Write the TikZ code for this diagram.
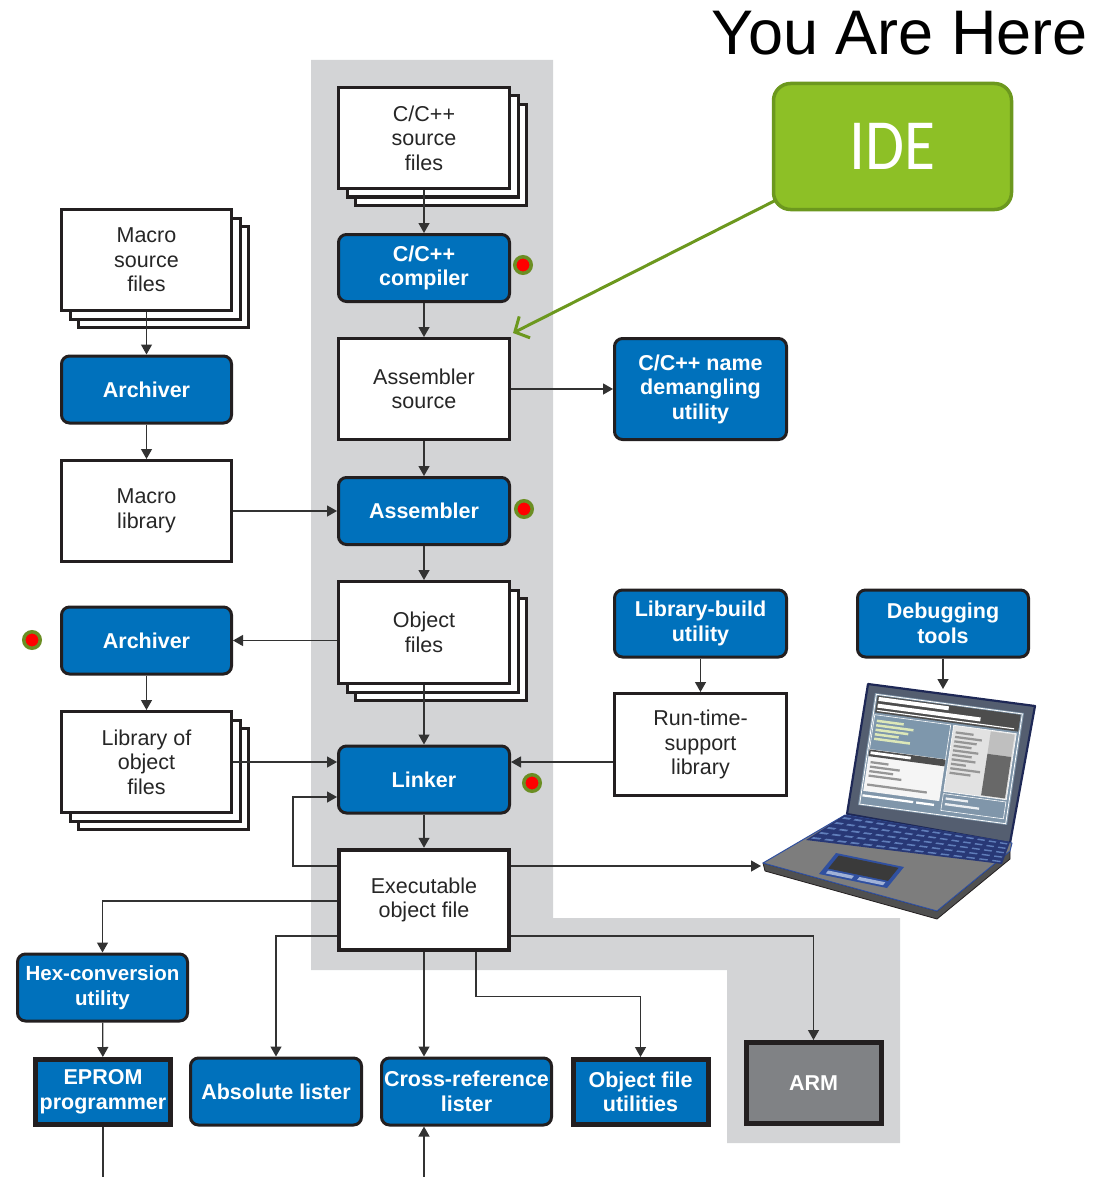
\documentclass[tikz,border=0pt]{standalone}
\usepackage{fontspec}
\setmainfont{Liberation Sans}
\newfontfamily\idefont{Carlito}
\usetikzlibrary{arrows.meta,shadows,calc}

\definecolor{panelgray}{RGB}{211,212,214}
\definecolor{toolblue}{RGB}{0,113,188}
\definecolor{boxline}{RGB}{35,31,32}
\definecolor{wire}{RGB}{50,50,50}
\definecolor{armgray}{RGB}{128,130,133}
\definecolor{idegreen}{RGB}{141,192,38}
\definecolor{idedark}{RGB}{108,152,30}
\definecolor{ringgreen}{RGB}{107,142,35}
% laptop palette
\definecolor{lidframe}{RGB}{30,40,86}
\definecolor{lidbezel}{RGB}{84,94,112}
\definecolor{screenbg}{RGB}{128,150,170}
\definecolor{screenpanel}{RGB}{126,151,172}
\definecolor{screenlight}{RGB}{226,226,226}
\definecolor{screendark}{RGB}{77,77,77}
\definecolor{textline}{RGB}{150,150,150}
\definecolor{yellowline}{RGB}{221,232,184}
\definecolor{deckgray}{RGB}{125,125,125}
\definecolor{deckside}{RGB}{80,80,80}
\definecolor{keybed}{RGB}{40,56,118}
\definecolor{keycap}{RGB}{96,126,186}
\definecolor{padgray}{RGB}{58,58,58}
\definecolor{padframe}{RGB}{48,80,160}

% axis-aligned quad in the current (possibly skewed) frame
\newcommand\quadfill[5]{\fill[#1] (#2,#3) -- (#4,#3) -- (#4,#5) -- (#2,#5) -- cycle;}
\newcommand\quaddraw[5]{\draw[#1] (#2,#3) -- (#4,#3) -- (#4,#5) -- (#2,#5) -- cycle;}
% point on the keyboard bed by bilinear interpolation of its four corners
\newcommand\keypt[3]{%
  \pgfmathsetmacro\kx{(1-#3)*((1-#2)*845+#2*1010)+#3*((1-#2)*806+#2*1002)}%
  \pgfmathsetmacro\ky{(1-#3)*((1-#2)*815+#2*842)+#3*((1-#2)*840+#2*864)}%
  \coordinate (#1) at (\kx,\ky);}

\begin{document}
\begin{tikzpicture}[x=1pt,y=-1pt,
  txt/.style={font=\fontsize{21.5}{24.5}\selectfont, align=center, inner sep=0pt, text=black!85},
  filebox/.style={txt, draw=boxline, fill=white, line width=3pt,
    minimum width=171pt, minimum height=101pt},
  stackbox/.style={filebox,
    copy shadow={shadow xshift=17pt, shadow yshift=-17pt, fill=white, draw=boxline, line width=3pt},
    copy shadow={shadow xshift=8.5pt, shadow yshift=-8.5pt, fill=white, draw=boxline, line width=3pt}},
  tool/.style={align=center, inner sep=0pt, text=white,
    font=\fontsize{21.5}{24.5}\selectfont\bfseries,
    fill=toolblue, draw=boxline, line width=3pt, rounded corners=8pt,
    minimum width=171pt, minimum height=67pt},
  squaretool/.style={tool, rounded corners=0pt, line width=5pt,
    minimum width=135pt, minimum height=65pt},
  armbox/.style={squaretool, fill=armgray, minimum height=81pt},
  idebox/.style={fill=idegreen, draw=idedark, line width=3.5pt, rounded corners=17pt,
    minimum width=238pt, minimum height=126pt, text=white, inner sep=0pt,
    font=\idefont\fontsize{72}{72}\selectfont},
  arr/.style={draw=wire, line width=1.3pt, -{Triangle[length=10pt,width=11pt]}},
  wireline/.style={draw=wire, line width=1.3pt},
  greenarr/.style={draw=idedark, line width=3pt, line cap=round,
    -{Straight Barb[length=11pt,width=24pt,line width=3pt]}},
  reddot/.style={circle, fill=red, draw=ringgreen, line width=3.5pt,
    minimum size=16.5pt, inner sep=0pt}
]
\useasboundingbox (0,0) rectangle (1099,1177);

% shaded band behind the main tool chain
\fill[panelgray] (311,60) -- (553,60) -- (553,918) -- (900,918) -- (900,1143)
  -- (727,1143) -- (727,970) -- (311,970) -- cycle;

% title
\node[anchor=base east, inner sep=0pt, font=\fontsize{63}{63}\selectfont] (title) at (1088,55) {You Are Here};

% main column
\node[stackbox] (src) at (424,138) {C/C++\\source\\files};
\node[tool] (comp) at (424,268) {C/C++\\compiler};
\node[filebox] (asmsrc) at (424,389) {Assembler\\source};
\node[tool, minimum width=172pt, minimum height=101pt] (demangle) at (700.5,389) {C/C++ name\\demangling\\utility};
\node[tool] (asm) at (424,511) {Assembler};
\node[stackbox, minimum height=102pt] (obj) at (424,632.5) {Object\\files};
\node[tool] (linker) at (424,779.5) {Linker};
\node[filebox, line width=4.5pt, minimum width=170pt, minimum height=100pt] (exe) at (424,900) {Executable\\object file};

% left column
\node[stackbox, minimum width=170pt] (msrc) at (146.5,260) {Macro\\source\\files};
\node[tool, minimum width=170pt] (arch1) at (146.5,389.5) {Archiver};
\node[filebox, minimum width=170pt] (mlib) at (146.5,511) {Macro\\library};
\node[tool, minimum width=170pt] (arch2) at (146.5,640.5) {Archiver};
\node[stackbox, minimum width=170pt] (libobj) at (146.5,762) {Library of\\object\\files};

% right column
\node[tool, minimum width=172pt] (libbuild) at (700.5,623.5) {Library-build\\utility};
\node[filebox, minimum width=172pt, minimum height=102pt] (rts) at (700.5,744.5) {Run-time-\\support\\library};
\node[tool] (debug) at (943,623.5) {Debugging\\tools};

% bottom row
\node[tool, minimum width=170pt, font=\fontsize{20.5}{24.5}\selectfont\bfseries] (hex) at (102.5,987.5) {Hex-conversion\\utility};
\node[squaretool] (eprom) at (103,1092) {EPROM\\programmer};
\node[tool] (abs) at (276,1091.5) {Absolute lister};
\node[tool, minimum width=170pt] (xref) at (466.5,1091.5) {Cross-reference\\lister};
\node[squaretool] (objutil) at (640.5,1092) {Object file\\utilities};
\node[armbox] (arm) at (813.5,1083) {ARM};

% markers
\node[reddot] (dotcomp) at (523,265) {};
\node[reddot] (dotasm) at (524,509) {};
\node[reddot] (dotlink) at (532,783) {};
\node[reddot] (dotarch) at (32,640) {};

% laptop: lid and screen
\draw[fill=lidbezel, draw=lidframe, line width=2.2pt, line join=round]
  (868,684) -- (1035,706) -- (1010,843) -- (847,814) -- cycle;
\begin{scope}[shift={(875,693)}, x={(149pt,-20pt)}, y={(-17pt,-112pt)}]
  \quadfill{screenbg}{0}{0}{1}{1}
  \quaddraw{white, line width=0.8pt}{0.01}{0.01}{0.99}{0.99}
  \quadfill{screendark}{0.02}{0.02}{0.98}{0.17}
  \quadfill{white}{0.03}{0.03}{0.5}{0.065}
  \quadfill{white}{0.03}{0.09}{0.72}{0.125}
  \quadfill{white}{0.03}{0.145}{0.95}{0.155}
  \quadfill{screenpanel}{0.02}{0.19}{0.53}{0.5}
  \quaddraw{white, line width=0.6pt}{0.02}{0.19}{0.53}{0.5}
  \foreach \v/\l in {0.23/0.18,0.27/0.25,0.31/0.22,0.35/0.16,0.39/0.24}{
    \quadfill{yellowline}{0.04}{\v}{0.04+\l}{\v+0.022}}
  \quadfill{white!96!black}{0.02}{0.5}{0.53}{0.87}
  \quadfill{screendark}{0.02}{0.5}{0.53}{0.56}
  \quadfill{white}{0.03}{0.515}{0.3}{0.54}
  \foreach \v/\l in {0.6/0.12,0.64/0.2,0.68/0.16,0.72/0.22,0.8/0.4}{
    \quadfill{textline}{0.04}{\v}{0.04+\l}{\v+0.02}}
  \quadfill{screenlight}{0.55}{0.19}{0.97}{0.78}
  \quaddraw{white, line width=0.6pt}{0.55}{0.19}{0.97}{0.78}
  \quadfill{white!75!black}{0.8}{0.2}{0.96}{0.4}
  \quadfill{screendark!85!white}{0.8}{0.4}{0.96}{0.77}
  \foreach \v/\l in {0.24/0.12,0.28/0.18,0.32/0.15,0.36/0.12,0.4/0.17,0.44/0.13,0.48/0.16,0.52/0.1,0.56/0.2,0.6/0.14}{
    \quadfill{textline}{0.57}{\v}{0.57+\l}{\v+0.02}}
  \quadfill{screenbg}{0.55}{0.8}{0.97}{0.95}
  \quaddraw{white, line width=0.6pt}{0.55}{0.8}{0.97}{0.95}
  \quadfill{white!85!screenbg}{0.57}{0.83}{0.72}{0.85}
  \quadfill{white!85!screenbg}{0.57}{0.88}{0.8}{0.9}
  \quadfill{white}{0.02}{0.9}{0.36}{0.92}
  \quadfill{white}{0.38}{0.9}{0.5}{0.92}
\end{scope}

% laptop: base, keyboard and touchpad
\fill[deckside, draw=boxline, line width=0.8pt, line join=round]
  (763,863) -- (937,911) -- (1010,851) -- (1010,859) -- (937,919) -- (765,871) -- cycle;
\draw[fill=deckgray, draw=padframe, line width=1pt, line join=round]
  (763,863) -- (845,815) -- (1012,843) -- (1010,851) -- (937,911) -- cycle;
\keypt{kbA}{0}{0}\keypt{kbB}{1}{0}\keypt{kbC}{1}{1}\keypt{kbD}{0}{1}
\fill[keybed] (kbA) -- (kbB) -- (kbC) -- (kbD) -- cycle;
\foreach \i in {0,...,14}{
  \foreach \j in {0,...,4}{
    \pgfmathsetmacro\ua{\i/15+0.012}\pgfmathsetmacro\ub{(\i+1)/15-0.012}
    \pgfmathsetmacro\va{\j/5+0.07}\pgfmathsetmacro\vb{(\j+1)/5-0.07}
    \keypt{ka}{\ua}{\va}\keypt{kb}{\ub}{\va}\keypt{kc}{\ub}{\vb}\keypt{kd}{\ua}{\vb}
    \fill[keycap] (ka) -- (kb) -- (kc) -- (kd) -- cycle;
  }
}
\begin{scope}[shift={(836,853)}, x={(68pt,-14pt)}, y={(-17pt,-21pt)}]
  \quadfill{padframe}{0}{0}{1}{1}
  \quadfill{padgray}{0.06}{0.08}{0.94}{0.7}
  \quadfill{keycap!60!white}{0.08}{0.78}{0.46}{0.92}
  \quadfill{keycap!60!white}{0.54}{0.78}{0.92}{0.92}
\end{scope}
\coordinate (lapTop) at (943,689);
\coordinate (lapLeft) at (761,866);
\coordinate (bottomEdge) at (0,1177);

% connectors
\draw[arr] (src) -- (comp);
\draw[arr] (comp) -- (asmsrc);
\draw[arr] (asmsrc) -- (demangle);
\draw[arr] (asmsrc) -- (asm);
\draw[arr] (asm) -- (obj);
\draw[arr] (obj.west |- arch2) -- (arch2);
\draw[arr] (obj) -- (linker);
\draw[arr] (msrc) -- (arch1);
\draw[arr] (arch1) -- (mlib);
\draw[arr] (mlib) -- (asm);
\draw[arr] (arch2) -- (libobj);
\draw[arr] (libobj.east) -- (libobj.east -| linker.west);
\draw[arr] (linker) -- (exe);
\draw[arr] ($(exe.west)+(0,-34)$) -| ($(linker.west)+(-44,17.5)$) -- ($(linker.west)+(0,17.5)$);
\draw[arr] (libbuild) -- (rts);
\draw[arr] (rts.west |- libobj.east) -- (linker.east |- libobj.east);
\draw[arr] (debug) -- (lapTop);
\draw[arr] ($(exe.east)+(0,-34)$) -- (lapLeft);
\draw[arr] ($(exe.west)+(0,1)$) -| (hex);
\draw[arr] ($(exe.west)+(0,36)$) -| (abs);
\draw[arr] (exe.south) -- (exe.south |- xref.north);
\draw[arr] ($(exe.south)+(52,0)$) -- ++(0,44) -| (objutil);
\draw[arr] ($(exe.east)+(0,36)$) -| (arm);
\draw[arr] (hex) -- (eprom);
\draw[wireline] (eprom) -- (eprom.south |- bottomEdge);
\draw[arr] (exe.south |- bottomEdge) -- (exe.south |- xref.south);

% IDE callout
\node[idebox] (ide) at (892.5,146.5) {\scalebox{0.88}[1]{IDE}};
\draw[greenarr] ($(ide.south west)+(4,-11)$) -- ($(asmsrc.north east)+(2,-4)$);
\end{tikzpicture}
\end{document}
